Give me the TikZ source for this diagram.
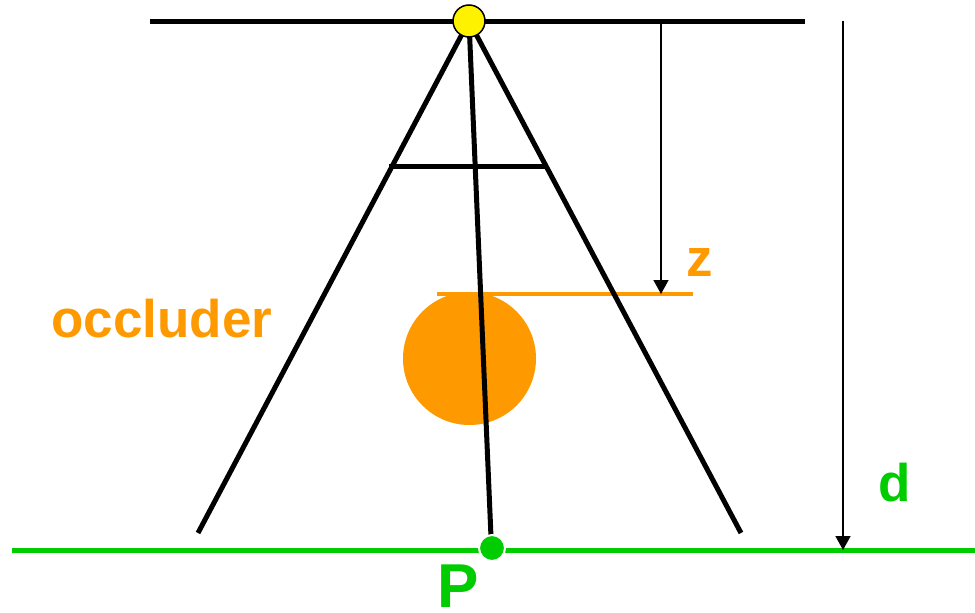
\documentclass[tikz,border=0pt]{standalone}
\usepackage{fontspec}
\setmainfont{Liberation Sans}
\usetikzlibrary{arrows.meta}
\definecolor{occ}{RGB}{255,153,0}
\definecolor{grn}{RGB}{0,204,0}
\begin{document}
\begin{tikzpicture}[x=1pt,y=-1pt,
  thickline/.style={line width=5pt,black},
  measure/.style={line width=1.5pt,black,-{Triangle[length=14pt,width=15pt]}},
  lbl/.style={font=\bfseries\fontsize{53}{60}\selectfont,inner sep=0pt,anchor=base west}]
\useasboundingbox (0,0) rectangle (975,613);
% planes
\coordinate (tl) at (150,21);
\coordinate (tr) at (805,21);
\draw[thickline] (tl) -- (tr);
\coordinate (gl) at (12,550);
\coordinate (gr) at (975,550);
\draw[grn,line width=5pt] (gl) -- (gr);
% occluder
\node[circle,fill=occ,minimum size=133pt,inner sep=0pt] (occl) at (469.5,358.5) {};
\coordinate (zl) at (437,294);
\coordinate (zr) at (693,294);
\draw[occ,line width=4pt] (zl) -- (zr);
% light cone
\coordinate (light) at (469,21);
\coordinate (bl) at (198,533);
\coordinate (br) at (741,533);
\coordinate (pc) at (491,537);
\draw[thickline] (light) -- (bl);
\draw[thickline] (light) -- (br);
\draw[thickline] (light) -- (pc);
\coordinate (cl) at (389,166);
\coordinate (cr) at (548,166);
\draw[thickline] (cl) -- (cr);
% light source
\node[circle,fill=yellow,draw=black,line width=1.5pt,minimum size=32pt,inner sep=0pt] (src) at (light) {};
% point P
\node[circle,fill=grn,draw=white,line width=2pt,minimum size=26pt,inner sep=0pt] (P) at (492,548) {};
% measures
\coordinate (za) at (661,21);
\coordinate (zb) at (661,294);
\draw[measure] (za) -- (zb);
\coordinate (da) at (843,21);
\coordinate (db) at (843,550);
\draw[measure] (da) -- (db);
% labels
\node[lbl,text=occ] (occtext) at (51,337) {occluder};
\node[lbl,text=occ] (ztext) at (686,276) {z};
\node[lbl,text=grn] (dtext) at (878,501) {d};
\node[lbl,text=grn,font=\bfseries\fontsize{62}{70}\selectfont] (Ptext) at (437,607) {P};
\end{tikzpicture}
\end{document}
